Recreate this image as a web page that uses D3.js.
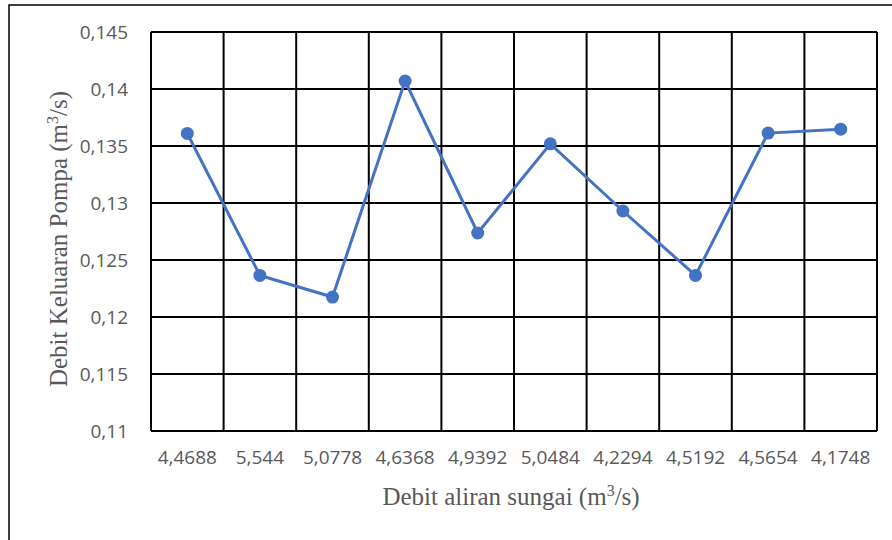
<!doctype html>
<html lang="en">
<head>
<meta charset="utf-8">
<title>Debit Keluaran Pompa</title>
<script src="https://cdn.jsdelivr.net/npm/d3@7"></script>
<style>
  body { margin: 0; background: #fff; }
  .tick text { font-family: "Open Sans", sans-serif; fill: #595959; }
  .title { font-family: "Liberation Serif", "Times New Roman", serif; fill: #595959; }
</style>
</head>
<body>
<script>
var categories = ["4,4688", "5,544", "5,0778", "4,6368", "4,9392", "5,0484", "4,2294", "4,5192", "4,5654", "4,1748"];
var values = [0.1361, 0.12365, 0.12175, 0.1407, 0.12737, 0.13519, 0.1293, 0.12365, 0.13613, 0.13648];
var yTicks = [0.11, 0.115, 0.12, 0.125, 0.13, 0.135, 0.14, 0.145];

var W = 892, H = 540;
var plot = {left: 151, top: 32, right: 877, bottom: 431};

var svg = d3.select("body").append("svg")
            .attr("width", W)
            .attr("height", H);

// outer chart frame (right and bottom edges run off the picture)
svg.append("rect")
   .attr("x", 9).attr("y", 5)
   .attr("width", 1000).attr("height", 1000)
   .attr("fill", "#fff")
   .attr("stroke", "#000")
   .attr("stroke-width", 1.5);

var x = d3.scaleBand()
          .domain(categories)
          .range([plot.left, plot.right]);

var y = d3.scaleLinear()
          .domain([0.11, 0.145])
          .range([plot.bottom, plot.top]);

var fmt = d3.format(".3~f");

// horizontal gridlines
svg.append("g")
   .selectAll("line")
   .data(yTicks)
   .enter()
   .append("line")
   .attr("x1", plot.left).attr("x2", plot.right)
   .attr("y1", d => y(d)).attr("y2", d => y(d))
   .attr("stroke", "#000")
   .attr("stroke-width", 2);

// vertical gridlines at band edges
var edges = categories.map(c => x(c)).concat([plot.right]);
svg.append("g")
   .selectAll("line")
   .data(edges)
   .enter()
   .append("line")
   .attr("x1", d => d).attr("x2", d => d)
   .attr("y1", plot.top).attr("y2", plot.bottom)
   .attr("stroke", "#000")
   .attr("stroke-width", 2);

// y axis labels
var yAxis = d3.axisLeft(y)
              .tickValues(yTicks)
              .tickSize(0)
              .tickPadding(23)
              .tickFormat(d => fmt(d).replace(".", ","));
var gy = svg.append("g")
            .attr("transform", "translate(" + plot.left + ",0)")
            .call(yAxis);
gy.select(".domain").remove();
gy.selectAll(".tick text").style("font-size", "19px");

// x axis labels
var xAxis = d3.axisBottom(x)
              .tickSize(0)
              .tickPadding(20);
var gx = svg.append("g")
            .attr("transform", "translate(0," + plot.bottom + ")")
            .call(xAxis);
gx.select(".domain").remove();
gx.selectAll(".tick text").style("font-size", "19px");

// series line
var line = d3.line()
             .x((d, i) => x(categories[i]) + x.bandwidth() / 2)
             .y(d => y(d));

svg.append("path")
   .datum(values)
   .attr("d", line)
   .attr("fill", "none")
   .attr("stroke", "#4472C4")
   .attr("stroke-width", 3);

svg.append("g")
   .selectAll("circle")
   .data(values)
   .enter()
   .append("circle")
   .attr("cx", (d, i) => x(categories[i]) + x.bandwidth() / 2)
   .attr("cy", d => y(d))
   .attr("r", 6.5)
   .attr("fill", "#4472C4");

// axis titles
var xt = svg.append("text")
            .attr("class", "title")
            .attr("x", 511)
            .attr("y", 505)
            .attr("text-anchor", "middle")
            .style("font-size", "25px");
xt.append("tspan").text("Debit aliran sungai (m");
xt.append("tspan").attr("dy", -9).style("font-size", "16px").text("3");
xt.append("tspan").attr("dy", 9).text("/s)");

var yt = svg.append("text")
            .attr("class", "title")
            .attr("transform", "translate(67,239) rotate(-90)")
            .attr("text-anchor", "middle")
            .style("font-size", "25px");
yt.append("tspan").text("Debit Keluaran Pompa (m");
yt.append("tspan").attr("dy", -9).style("font-size", "16px").text("3");
yt.append("tspan").attr("dy", 9).text("/s)");
</script>
</body>
</html>
